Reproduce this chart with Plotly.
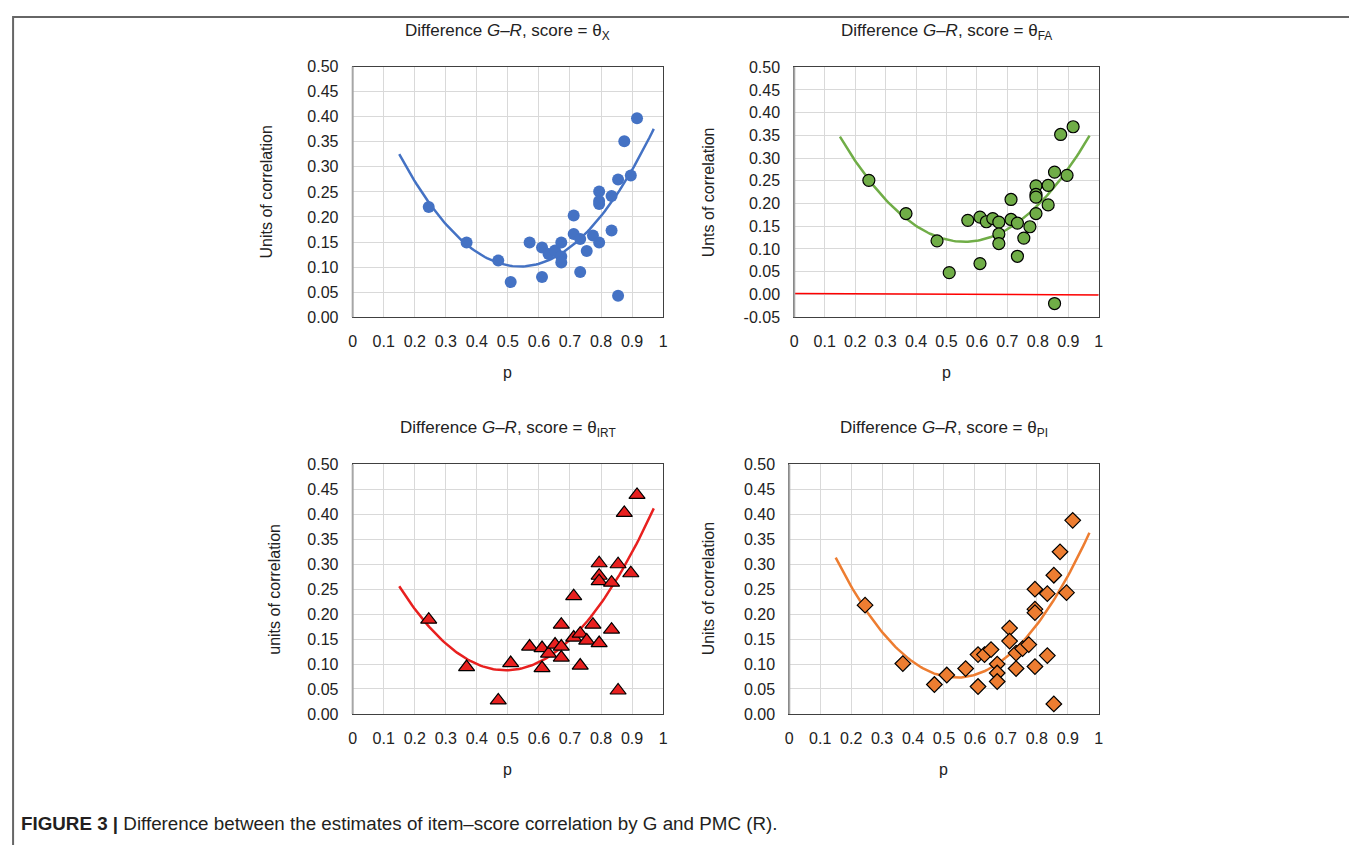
import numpy as np
import plotly.graph_objects as go

W, H = 1357, 845
# measured mapping from figure pixels to the photographed page (scale, offset)
AX, BX = 0.992, 12.8
AY, BY = 0.978, 16.4

# ---------------- data ----------------
p = [0.245, 0.367, 0.469, 0.509, 0.570, 0.610, 0.610, 0.631, 0.652, 0.672,
     0.672, 0.672, 0.712, 0.712, 0.733, 0.733, 0.754, 0.774, 0.794, 0.794,
     0.794, 0.794, 0.834, 0.834, 0.855, 0.855, 0.875, 0.896, 0.916]

diff_x = [0.220, 0.149, 0.113, 0.070, 0.149, 0.139, 0.080, 0.126, 0.133, 0.149,
          0.121, 0.109, 0.203, 0.166, 0.156, 0.090, 0.132, 0.163, 0.251, 0.232,
          0.226, 0.149, 0.242, 0.173, 0.275, 0.043, 0.351, 0.283, 0.397]

diff_fa = [0.251, 0.178, 0.118, 0.048, 0.163, 0.170, 0.068, 0.160, 0.167, 0.159,
           0.133, 0.112, 0.209, 0.165, 0.157, 0.084, 0.124, 0.149, 0.239, 0.220,
           0.214, 0.178, 0.240, 0.197, 0.269, -0.020, 0.352, 0.262, 0.369]

diff_irt = [0.189, 0.094, 0.027, 0.102, 0.135, 0.132, 0.092, 0.121, 0.139, 0.179,
            0.135, 0.113, 0.236, 0.153, 0.161, 0.097, 0.147, 0.179, 0.302, 0.277,
            0.266, 0.142, 0.263, 0.169, 0.300, 0.047, 0.403, 0.282, 0.439]

diff_pi = [0.218, 0.101, 0.059, 0.078, 0.091, 0.119, 0.055, 0.119, 0.129, 0.100,
           0.082, 0.065, 0.172, 0.146, 0.122, 0.091, 0.131, 0.139, 0.250, 0.210,
           0.203, 0.095, 0.241, 0.117, 0.278, 0.020, 0.325, 0.243, 0.388]

zero_line_x = [0.0, 1.0]
zero_line_y = [0.002, -0.001]

trend_range = [0.15, 0.97]

x_ticks = [0, 0.1, 0.2, 0.3, 0.4, 0.5, 0.6, 0.7, 0.8, 0.9, 1]
x_tick_labels = ["0", "0.1", "0.2", "0.3", "0.4", "0.5", "0.6", "0.7", "0.8", "0.9", "1"]

titles = ["Difference <i>G–R</i>, score = θ<sub>X</sub>",
          "Difference <i>G–R</i>, score = θ<sub>FA</sub>",
          "Difference <i>G–R</i>, score = θ<sub>IRT</sub>",
          "Difference <i>G–R</i>, score = θ<sub>PI</sub>"]
y_titles = ["Units of correlation", "Unts of correlation",
            "units of correlation", "Units of correlation"]
caption = ("<b>FIGURE 3 |</b> Difference between the estimates of item–score "
           "correlation by G and PMC (R).")

# ---------------- layout geometry (target page pixels) ----------------
FONT = "Liberation Sans, Arial, Helvetica, sans-serif"
panels = [
    dict(x0=353, x1=663, yt=67, yb=317, ymin=0.0),
    dict(x0=794, x1=1098, yt=67.5, yb=317, ymin=-0.05),
    dict(x0=353, x1=663, yt=464, yb=713, ymin=0.0),
    dict(x0=789, x1=1098, yt=464, yb=713, ymin=0.0),
]
series = [diff_x, diff_fa, diff_irt, diff_pi]
colors = ["#4472C4", "#70AD47", "#E8201F", "#ED7D31"]
symbols = ["circle", "circle", "triangle-up", "diamond"]
sizes = [12, 12, 14, 12]
outline = [0, 1.2, 1.2, 1.2]

fig = go.Figure()
shapes = []
annotations = []


def px2x(v):
    return ((v - BX) / AX) / W


def px2y(v):
    return 1 - ((v - BY) / AY) / H


for i, (pn, ys) in enumerate(zip(panels, series)):
    n = "" if i == 0 else str(i + 1)
    xa, ya = "x" + n, "y" + n
    color = colors[i]

    # trend line: quadratic least-squares fit of the data
    coef = np.polyfit(p, ys, 2)
    tx = np.linspace(trend_range[0], trend_range[1], 120)
    fig.add_trace(go.Scatter(x=tx, y=np.polyval(coef, tx), mode="lines",
                             line=dict(color=color, width=2.5),
                             xaxis=xa, yaxis=ya, showlegend=False,
                             hoverinfo="skip"))
    if i == 1:
        fig.add_trace(go.Scatter(x=zero_line_x, y=zero_line_y, mode="lines",
                                 line=dict(color="#FF0000", width=1.5),
                                 xaxis=xa, yaxis=ya, showlegend=False))
    fig.add_trace(go.Scatter(
        x=p, y=ys, mode="markers",
        marker=dict(color=color, symbol=symbols[i], size=sizes[i],
                    line=dict(color="#000000", width=outline[i])),
        xaxis=xa, yaxis=ya, showlegend=False))

    ymin = pn["ymin"]
    yticks = [round(ymin + 0.05 * k, 2) for k in range(int(round((0.5 - ymin) / 0.05)) + 1)]
    ytext = [f"{v:.2f}" for v in yticks]

    fig.layout["xaxis" + n] = dict(
        domain=[px2x(pn["x0"]), px2x(pn["x1"])], anchor=ya, range=[0, 1],
        tickvals=x_ticks, ticktext=x_tick_labels, showgrid=True,
        gridcolor="#D9D9D9", gridwidth=1, zeroline=False,
        showline=True, linecolor="#404040", linewidth=1, mirror=True,
        ticks="", ticklabelstandoff=10,
        tickfont=dict(family=FONT, size=16, color="#222222"))
    fig.layout["yaxis" + n] = dict(
        domain=[px2y(pn["yb"]), px2y(pn["yt"])], anchor=xa,
        range=[ymin, 0.5], tickvals=yticks, ticktext=ytext, showgrid=True,
        gridcolor="#D9D9D9", gridwidth=1, zeroline=False,
        showline=True, linecolor="#404040", linewidth=1, mirror=True,
        ticks="", ticklabelstandoff=10,
        tickfont=dict(family=FONT, size=16, color="#222222"))

    cx = (pn["x0"] + pn["x1"]) / 2
    annotations.append(dict(text=titles[i], x=px2x(cx), y=px2y(pn["yt"] - 35),
                            xref="paper", yref="paper", showarrow=False,
                            xanchor="center", yanchor="middle",
                            font=dict(family=FONT, size=17, color="#222222")))
    annotations.append(dict(text="p", x=px2x(cx), y=px2y(pn["yb"] + 55),
                            xref="paper", yref="paper", showarrow=False,
                            xanchor="center", yanchor="middle",
                            font=dict(family=FONT, size=16, color="#222222")))
    ytx = 267 if i == 0 else (708 if i in (1, 3) else 275)
    annotations.append(dict(text=y_titles[i], x=px2x(ytx),
                            y=px2y((pn["yt"] + pn["yb"]) / 2),
                            xref="paper", yref="paper", showarrow=False,
                            textangle=-90, xanchor="center", yanchor="middle",
                            font=dict(family=FONT, size=16, color="#222222")))
    shapes.append(dict(type="line", xref="paper", yref="paper",
                       x0=px2x(pn["x0"]), x1=px2x(pn["x0"]),
                       y0=px2y(pn["yb"]), y1=px2y(pn["yt"]),
                       line=dict(color="#A6A6A6", width=2), layer="above"))

# outer figure border (left/top clamped to the figure edge)
shapes.append(dict(type="rect", xref="paper", yref="paper",
                   x0=max(px2x(8), 0.0008), x1=px2x(1355.5),
                   y0=-0.05, y1=min(px2y(6), 0.9988),
                   line=dict(color="#666666", width=2), fillcolor="rgba(0,0,0,0)"))

annotations.append(dict(text=caption, x=px2x(20), y=px2y(822),
                        xref="paper", yref="paper", showarrow=False,
                        xanchor="left", yanchor="middle",
                        font=dict(family=FONT, size=18.8, color="#231F20")))

fig.update_layout(width=W, height=H, margin=dict(l=0, r=0, t=0, b=0),
                  paper_bgcolor="white", plot_bgcolor="white",
                  shapes=shapes, annotations=annotations, showlegend=False)

fig.write_html("out.html")
